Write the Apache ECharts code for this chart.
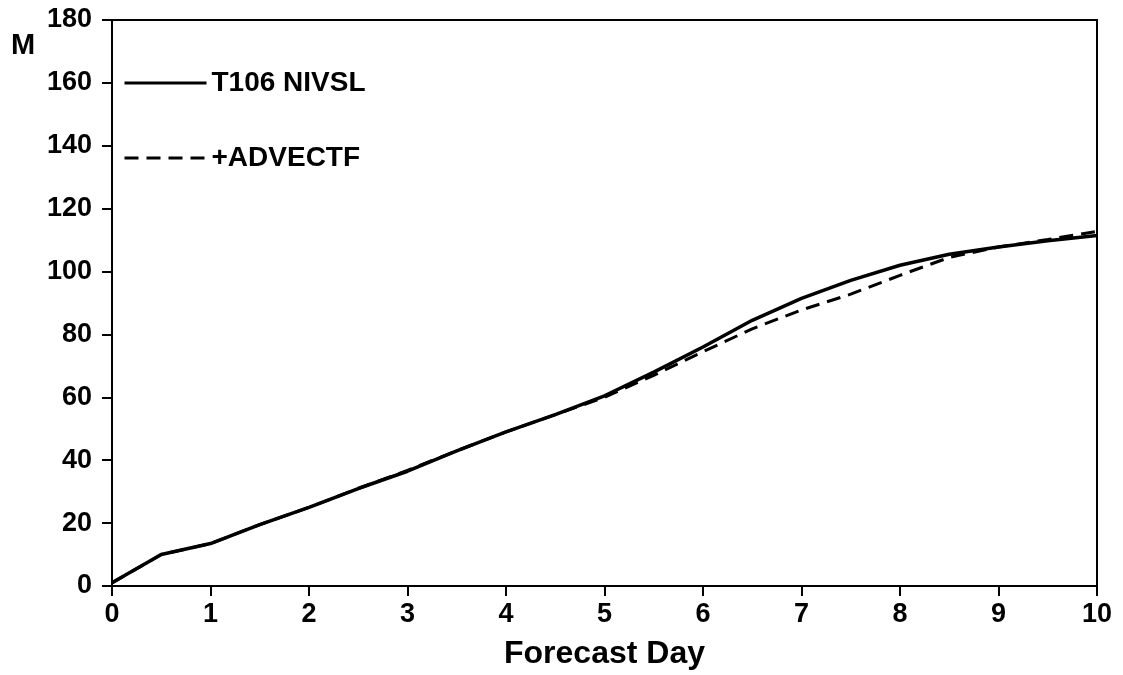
<!DOCTYPE html>
<html>
<head>
<meta charset="utf-8">
<script src="https://cdn.jsdelivr.net/npm/echarts@6/dist/echarts.min.js"></script>
<style>html,body{margin:0;padding:0;background:#fff}#c{width:1123px;height:675px}</style>
</head>
<body>
<div id="c"></div>
<script>
const days = [0,0.5,1,1.5,2,2.5,3,3.5,4,4.5,5,5.5,6,6.5,7,7.5,8,8.5,9,9.5,10];
const t106 = [1,10,13.5,19.5,25,31,36.5,43,49,54.5,60.5,68,76,84.5,91.5,97.2,102,105.5,107.8,109.8,111.5];
const advectf = [1,10,13.5,19.5,25,31,36.8,43,49,54.5,60,67,74.5,81.8,87.8,92.8,98.8,104.5,107.8,110.2,112.8];
const seriesNames = ['T106 NIVSL','+ADVECTF'];
const yTicks = [0,20,40,60,80,100,120,140,160,180];
const xTicks = [0,1,2,3,4,5,6,7,8,9,10];

const font = '"Liberation Sans", Arial, sans-serif';
const chart = echarts.init(document.getElementById('c'));
chart.setOption({
  animation:false,
  backgroundColor:'#fff',
  title:{text:'M',left:6,top:26,textStyle:{fontFamily:font,fontSize:29,fontWeight:'bold',color:'#000'}},
  legend:{
    orient:'vertical',left:123,top:69,itemWidth:82,itemHeight:28,itemGap:47,padding:0,
    itemStyle:{opacity:0},
    lineStyle:{width:3,color:'#000'},
    textStyle:{fontFamily:font,fontSize:28,fontWeight:'bold',color:'#000'},
    data:seriesNames
  },
  grid:{left:112,right:26,top:20,bottom:89,show:true,borderColor:'#000',borderWidth:2,backgroundColor:'transparent'},
  xAxis:{
    type:'value',min:xTicks[0],max:xTicks[xTicks.length-1],interval:1,
    name:'Forecast Day',nameLocation:'middle',nameGap:52,
    nameTextStyle:{fontFamily:font,fontSize:32,fontWeight:'bold',color:'#000'},
    axisLine:{lineStyle:{color:'#000',width:2}},
    axisTick:{show:true,length:10,inside:false,lineStyle:{color:'#000',width:2}},
    axisLabel:{fontFamily:font,fontSize:27,fontWeight:'bold',color:'#000',margin:15},
    splitLine:{show:false}
  },
  yAxis:{
    type:'value',min:yTicks[0],max:yTicks[yTicks.length-1],interval:20,
    axisLine:{show:true,lineStyle:{color:'#000',width:2}},
    axisTick:{show:true,length:10,lineStyle:{color:'#000',width:2}},
    axisLabel:{fontFamily:font,fontSize:27,fontWeight:'bold',color:'#000',margin:20},
    splitLine:{show:false}
  },
  series:[
    {name:seriesNames[0],type:'line',symbol:'none',data:days.map((d,i)=>[d,t106[i]]),
     lineStyle:{color:'#000',width:3.5,type:'solid'},itemStyle:{color:'#000'},z:3},
    {name:seriesNames[1],type:'line',symbol:'none',data:days.map((d,i)=>[d,advectf[i]]),
     lineStyle:{color:'#000',width:3,type:[14,8]},itemStyle:{color:'#000'},z:2}
  ]
});
</script>
</body>
</html>
